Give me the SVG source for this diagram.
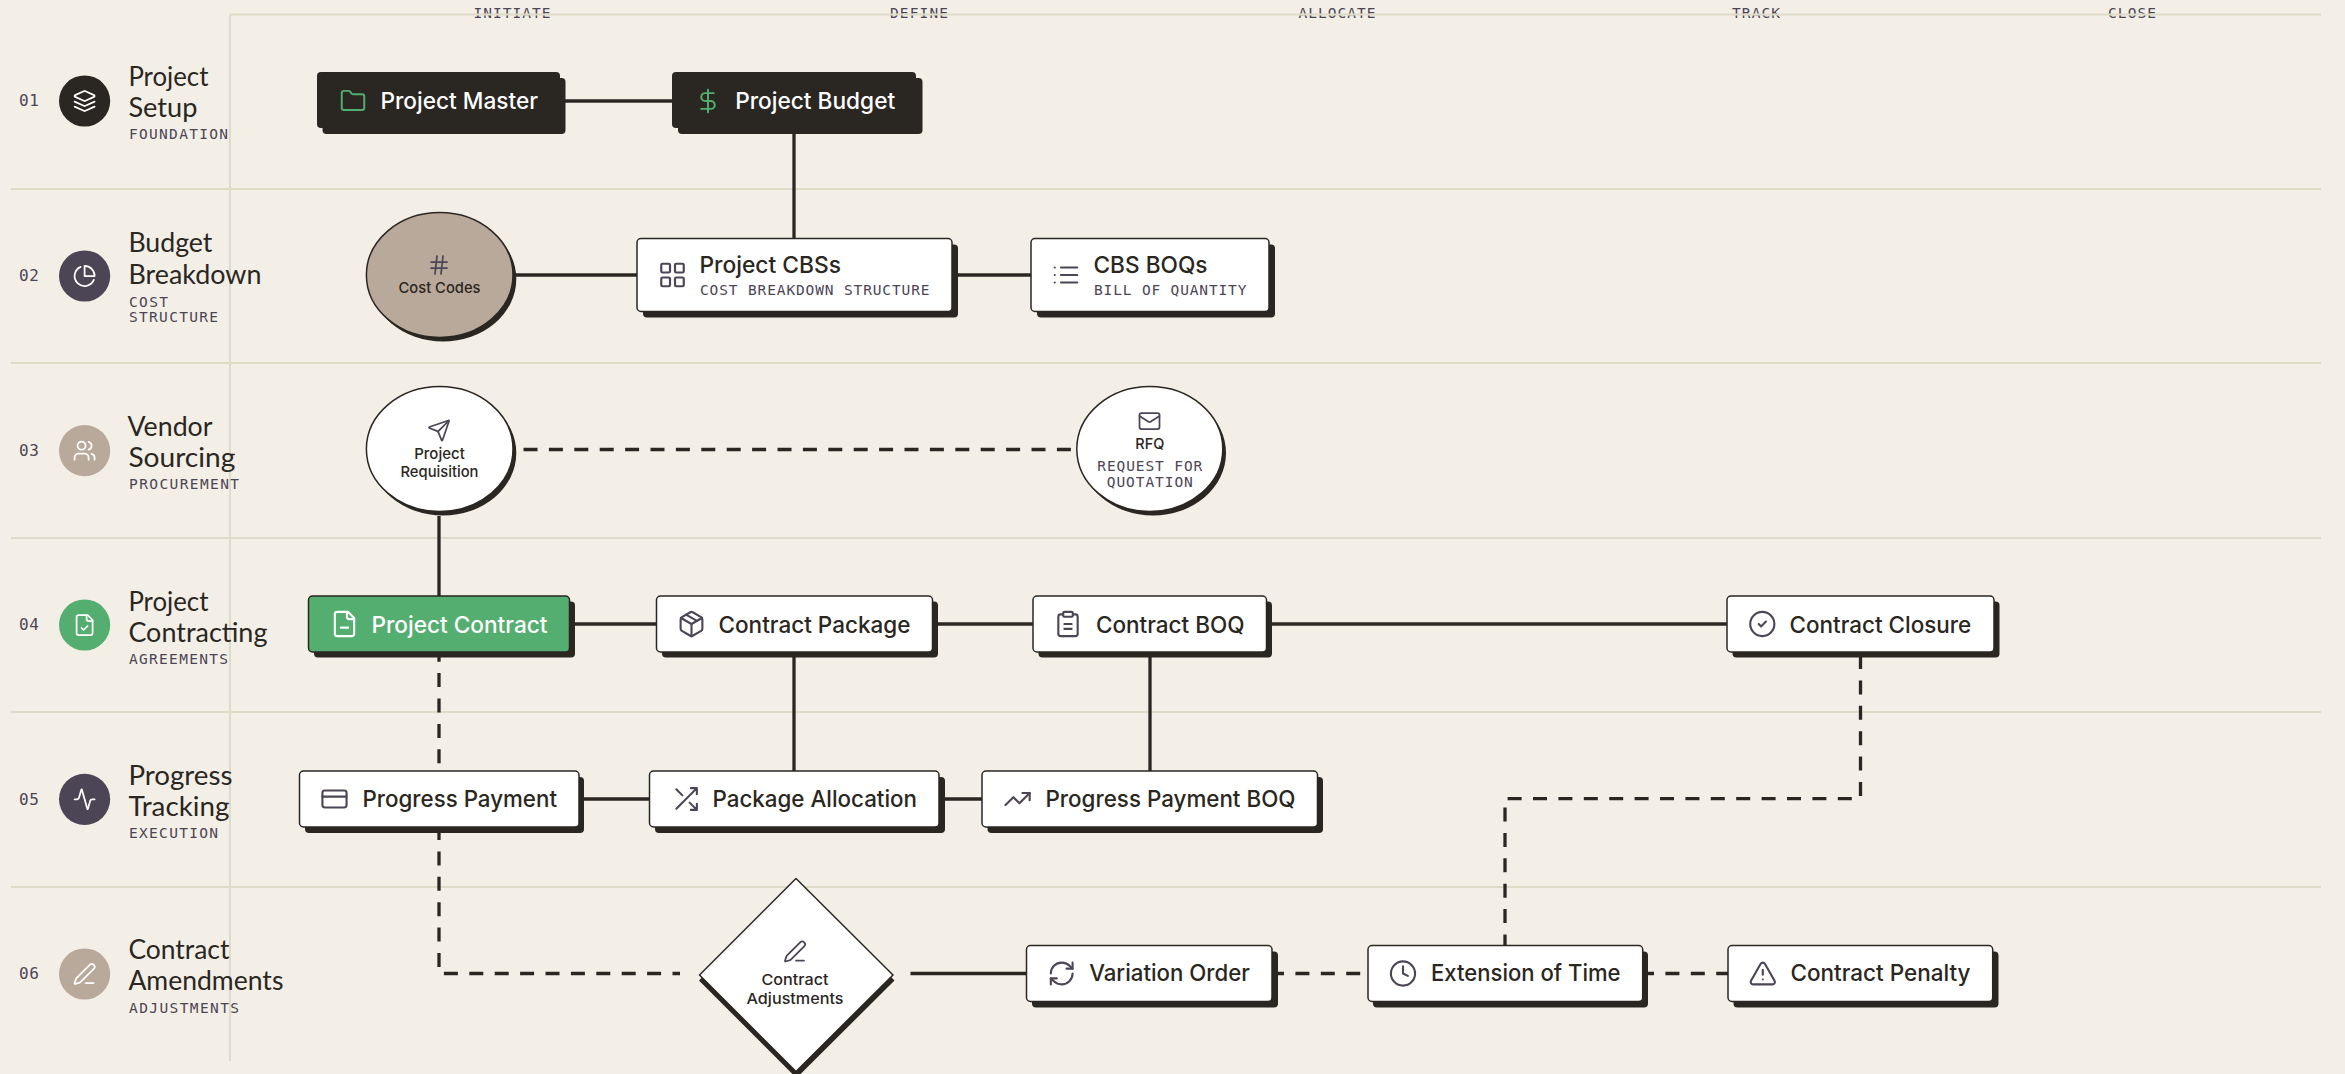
<svg xmlns="http://www.w3.org/2000/svg" width="2345" height="1074" viewBox="0 0 2345 1074">
<style>
.grid{stroke:#dedbc8;stroke-width:2;fill:none}
.c{stroke:#2a2622;stroke-width:3.3;fill:none}
.d{stroke:#2a2622;stroke-width:3.3;fill:none;stroke-dasharray:14 11.4}
.sh{fill:#2a2622}
.box{fill:#fff;stroke:#2a2622;stroke-width:1.5}
.dark{fill:#2a2622}
.mono{font-family:"DejaVu Sans Mono","Liberation Mono",monospace;font-size:14.5px;fill:#4c4555}
.num{font-size:16px}
.hd{text-anchor:middle}
.lane{font-family:Lato,"Noto Sans",sans-serif;font-size:27px;fill:#2a2622;transform:translateX(-1px)}
.t{font-family:Inter,"Liberation Sans",sans-serif;font-size:23px;font-weight:500;fill:#2a2622;transform:translateX(-0.5px)}
.w{fill:#fff}
.s{font-family:Inter,"Liberation Sans",sans-serif;font-size:15px;font-weight:500;fill:#2a2622;text-anchor:middle}
.i{fill:none;stroke:#4c4555;stroke-width:1.75;stroke-linecap:round;stroke-linejoin:round}
.iw{stroke:#fff}
.ig{stroke:#54ae70}
</style>
<defs>
<symbol id="layers" viewBox="0 0 24 24"><path d="m12.83 2.18a2 2 0 0 0-1.66 0L2.6 6.08a1 1 0 0 0 0 1.83l8.58 3.91a2 2 0 0 0 1.66 0l8.58-3.9a1 1 0 0 0 0-1.83Z"/><path d="m22 17.65-9.17 4.16a2 2 0 0 1-1.66 0L2 17.65"/><path d="m22 12.65-9.17 4.16a2 2 0 0 1-1.66 0L2 12.65"/></symbol>
<symbol id="pie" viewBox="0 0 24 24"><path d="M21.21 15.89A10 10 0 1 1 8 2.83"/><path d="M22 12A10 10 0 0 0 12 2v10z"/></symbol>
<symbol id="users" viewBox="0 0 24 24"><path d="M16 21v-2a4 4 0 0 0-4-4H6a4 4 0 0 0-4 4v2"/><circle cx="9" cy="7" r="4"/><path d="M22 21v-2a4 4 0 0 0-3-3.87"/><path d="M16 3.13a4 4 0 0 1 0 7.75"/></symbol>
<symbol id="filecheck" viewBox="0 0 24 24"><path d="M15 2H6a2 2 0 0 0-2 2v16a2 2 0 0 0 2 2h12a2 2 0 0 0 2-2V7Z"/><path d="M14 2v4a2 2 0 0 0 2 2h4"/><path d="m9 15 2 2 4-4"/></symbol>
<symbol id="fileminus" viewBox="0 0 24 24"><path d="M15 2H6a2 2 0 0 0-2 2v16a2 2 0 0 0 2 2h12a2 2 0 0 0 2-2V7Z"/><path d="M14 2v4a2 2 0 0 0 2 2h4"/><path d="M9 15h6"/></symbol>
<symbol id="activity" viewBox="0 0 24 24"><path d="M22 12h-2.48a2 2 0 0 0-1.93 1.46l-2.35 8.36a.25.25 0 0 1-.48 0L9.24 2.18a.25.25 0 0 0-.48 0l-2.35 8.36A2 2 0 0 1 4.49 12H2"/></symbol>
<symbol id="pen" viewBox="0 0 24 24"><path d="M13 21h8"/><path d="M21.174 6.812a1 1 0 0 0-3.986-3.987L3.842 16.174a2 2 0 0 0-.5.83l-1.321 4.352a.5.5 0 0 0 .623.622l4.353-1.32a2 2 0 0 0 .83-.497z"/></symbol>
<symbol id="folder" viewBox="0 0 24 24"><path d="M20 20a2 2 0 0 0 2-2V8a2 2 0 0 0-2-2h-7.9a2 2 0 0 1-1.69-.9L9.6 3.9A2 2 0 0 0 7.93 3H4a2 2 0 0 0-2 2v13a2 2 0 0 0 2 2Z"/></symbol>
<symbol id="dollar" viewBox="0 0 24 24"><path d="M12 2v20"/><path d="M17 5H9.5a3.5 3.5 0 0 0 0 7h5a3.5 3.5 0 0 1 0 7H6"/></symbol>
<symbol id="hash" viewBox="0 0 24 24"><path d="M4 9h16M4 15h16M10 3 8 21M16 3l-2 18"/></symbol>
<symbol id="grid" viewBox="0 0 24 24"><rect x="3" y="3" width="7" height="7" rx="1"/><rect x="14" y="3" width="7" height="7" rx="1"/><rect x="14" y="14" width="7" height="7" rx="1"/><rect x="3" y="14" width="7" height="7" rx="1"/></symbol>
<symbol id="list" viewBox="0 0 24 24"><path d="M3 12h.01M3 18h.01M3 6h.01M8 12h13M8 18h13M8 6h13"/></symbol>
<symbol id="send" viewBox="0 0 24 24"><path d="M14.536 21.686a.5.5 0 0 0 .937-.024l6.5-19a.496.496 0 0 0-.635-.635l-19 6.5a.5.5 0 0 0-.024.937l7.93 3.18a2 2 0 0 1 1.112 1.11z"/><path d="m21.854 2.147-10.94 10.939"/></symbol>
<symbol id="mail" viewBox="0 0 24 24"><rect x="2" y="4" width="20" height="16" rx="2"/><path d="m22 7-8.97 5.7a1.94 1.94 0 0 1-2.06 0L2 7"/></symbol>
<symbol id="package" viewBox="0 0 24 24"><path d="M11 21.73a2 2 0 0 0 2 0l7-4A2 2 0 0 0 21 16V8a2 2 0 0 0-1-1.73l-7-4a2 2 0 0 0-2 0l-7 4A2 2 0 0 0 3 8v8a2 2 0 0 0 1 1.73z"/><path d="M12 22V12"/><path d="m3.3 7 8.7 5 8.7-5"/><path d="m7.5 4.27 9 5.15"/></symbol>
<symbol id="clip" viewBox="0 0 24 24"><rect x="8" y="2" width="8" height="4" rx="1"/><path d="M16 4h2a2 2 0 0 1 2 2v14a2 2 0 0 1-2 2H6a2 2 0 0 1-2-2V6a2 2 0 0 1 2-2h2"/><path d="M9 12h6M9 16h6"/></symbol>
<symbol id="check" viewBox="0 0 24 24"><circle cx="12" cy="12" r="10"/><path d="m9 12 2 2 4-4"/></symbol>
<symbol id="card" viewBox="0 0 24 24"><rect x="2" y="5" width="20" height="14" rx="2"/><path d="M2 10h20"/></symbol>
<symbol id="shuffle" viewBox="0 0 24 24"><path d="M16 3h5v5M4 20 21 3M21 16v5h-5M15 15l6 6M4 4l5 5"/></symbol>
<symbol id="trend" viewBox="0 0 24 24"><path d="M22 7l-8.5 8.5-5-5L2 17"/><path d="M16 7h6v6"/></symbol>
<symbol id="refresh" viewBox="0 0 24 24"><path d="M3 12a9 9 0 0 1 9-9 9.75 9.75 0 0 1 6.74 2.74L21 8"/><path d="M21 3v5h-5"/><path d="M21 12a9 9 0 0 1-9 9 9.75 9.75 0 0 1-6.74-2.74L3 16"/><path d="M8 16H3v5"/></symbol>
<symbol id="clock" viewBox="0 0 24 24"><circle cx="12" cy="12" r="10"/><path d="M12 6v6l4 2"/></symbol>
<symbol id="alert" viewBox="0 0 24 24"><path d="m21.73 18-8-14a2 2 0 0 0-3.48 0l-8 14A2 2 0 0 0 4 21h16a2 2 0 0 0 1.73-3"/><path d="M12 9v4"/><path d="M12 17h.01"/></symbol>
</defs>
<rect width="2345" height="1074" fill="#f3efe7"/>

<g id="headers">
<text class="mono hd" x="512" y="18" textLength="77">INITIATE</text>
<text class="mono hd" x="919" y="18" textLength="58">DEFINE</text>
<text class="mono hd" x="1337" y="18" textLength="77">ALLOCATE</text>
<text class="mono hd" x="1756" y="18" textLength="48">TRACK</text>
<text class="mono hd" x="2132" y="18" textLength="48">CLOSE</text>
</g>

<g id="grid">
<path class="grid" d="M230 14.5H2321M230 14.5V1061M11 189H2321M11 363H2321M11 538H2321M11 712H2321M11 887H2321"/>
</g>

<g id="connectors">
<path class="c" d="M565 101H672"/>
<path class="c" d="M794 134V238"/>
<path class="c" d="M516 275H637"/>
<path class="c" d="M958 275H1031"/>
<path class="c" d="M439 516V596"/>
<path class="d" d="M523.5 449.5H1071"/>
<path class="c" d="M575 624H656"/>
<path class="c" d="M938 624H1033"/>
<path class="c" d="M1272 624H1727"/>
<path class="d" d="M439 647.7V771"/>
<path class="c" d="M794 657V771"/>
<path class="c" d="M1150 657V771"/>
<path class="c" d="M584 799H649"/>
<path class="c" d="M945 799H982"/>
<path class="d" d="M439 826V973.5H680"/>
<path class="c" d="M910.5 973.5H1026"/>
<path class="d" d="M1270 973.5H1368"/>
<path class="d" d="M1640 973.5H1728"/>
<path class="d" d="M1860.5 655V798.7H1505V946"/>
</g>

<g id="lane-1"><text class="mono num" x="19" y="106" textLength="20">01</text><circle cx="84.6" cy="101" r="25.6" fill="#2a2622"/><use href="#layers" class="i iw" x="72.6" y="89" width="24" height="24"/>
<text class="lane" x="129.4" y="85.5" textLength="80" lengthAdjust="spacingAndGlyphs">Project</text><text class="lane" x="129.4" y="116.5" textLength="69" lengthAdjust="spacingAndGlyphs">Setup</text><text class="mono" x="129" y="139" textLength="99">FOUNDATION</text></g>
<g id="lane-2"><text class="mono num" x="19" y="281" textLength="20">02</text><circle cx="84.6" cy="276" r="25.6" fill="#4c4555"/><use href="#pie" class="i iw" x="72.6" y="264" width="24" height="24"/>
<text class="lane" x="129.4" y="252" textLength="84" lengthAdjust="spacingAndGlyphs">Budget</text><text class="lane" x="129.4" y="284" textLength="133" lengthAdjust="spacingAndGlyphs">Breakdown</text><text class="mono" x="129" y="306.7" textLength="39">COST</text><text class="mono" x="129" y="321.7" textLength="89">STRUCTURE</text></g>
<g id="lane-3"><text class="mono num" x="19" y="455.5" textLength="20">03</text><circle cx="84.6" cy="450.7" r="25.6" fill="#b9a99a"/><use href="#users" class="i iw" x="72.6" y="438.7" width="24" height="24"/>
<text class="lane" x="128.5" y="435.5" textLength="85" lengthAdjust="spacingAndGlyphs">Vendor</text><text class="lane" x="129.4" y="467" textLength="107" lengthAdjust="spacingAndGlyphs">Sourcing</text><text class="mono" x="129" y="489" textLength="110">PROCUREMENT</text></g>
<g id="lane-4"><text class="mono num" x="19" y="630" textLength="20">04</text><circle cx="84.6" cy="625" r="25.6" fill="#54ae70"/><use href="#filecheck" class="i iw" x="72.6" y="613" width="24" height="24"/>
<text class="lane" x="129.4" y="610.5" textLength="80" lengthAdjust="spacingAndGlyphs">Project</text><text class="lane" x="129.4" y="641.5" textLength="139" lengthAdjust="spacingAndGlyphs">Contracting</text><text class="mono" x="129" y="664" textLength="99">AGREEMENTS</text></g>
<g id="lane-5"><text class="mono num" x="19" y="804.5" textLength="20">05</text><circle cx="84.6" cy="799.3" r="25.6" fill="#4c4555"/><use href="#activity" class="i iw" x="72.6" y="787.3" width="24" height="24"/>
<text class="lane" x="129.4" y="784.5" textLength="104" lengthAdjust="spacingAndGlyphs">Progress</text><text class="lane" x="129.4" y="815.5" textLength="101" lengthAdjust="spacingAndGlyphs">Tracking</text><text class="mono" x="129" y="838" textLength="89">EXECUTION</text></g>
<g id="lane-6"><text class="mono num" x="19" y="979" textLength="20">06</text><circle cx="84.6" cy="974" r="25.6" fill="#b9a99a"/><use href="#pen" class="i iw" x="72.6" y="962" width="24" height="24"/>
<text class="lane" x="129.4" y="958.5" textLength="101" lengthAdjust="spacingAndGlyphs">Contract</text><text class="lane" x="129.4" y="990" textLength="155" lengthAdjust="spacingAndGlyphs">Amendments</text><text class="mono" x="129" y="1012.7" textLength="110">ADJUSTMENTS</text></g>

<g id="project-master"><rect class="sh" x="322.5" y="78" width="243" height="56" rx="4"/><rect class="dark" x="317" y="72" width="243" height="56" rx="4"/><use href="#folder" class="i ig" x="339.5" y="87.5" width="27" height="27"/><text class="t w" x="381" y="109" textLength="157.5" lengthAdjust="spacingAndGlyphs">Project Master</text></g>
<g id="project-budget"><rect class="sh" x="678" y="78" width="244.5" height="56" rx="4"/><rect class="dark" x="672" y="72" width="244" height="56" rx="4"/><use href="#dollar" class="i ig" x="694.5" y="87.5" width="27" height="27"/><text class="t w" x="735.7" y="109" textLength="160" lengthAdjust="spacingAndGlyphs">Project Budget</text></g>

<g id="cost-codes"><ellipse class="sh" cx="443" cy="279" rx="73.3" ry="62.5"/><ellipse cx="439.7" cy="275" rx="73.3" ry="62.5" fill="#b9a99a" stroke="#2a2622" stroke-width="1.5"/><use href="#hash" class="i" x="427" y="253" width="24" height="24"/><text class="s" x="439.5" y="293.3" textLength="82" lengthAdjust="spacingAndGlyphs">Cost Codes</text></g>
<g id="project-cbss"><rect class="sh" x="643" y="244.5" width="315" height="73" rx="4"/><rect class="box" x="637" y="238.5" width="315" height="73" rx="4"/><use href="#grid" class="i" x="657.5" y="260" width="30" height="30"/><text class="t" x="700" y="273.3" textLength="141.5" lengthAdjust="spacingAndGlyphs">Project CBSs</text><text class="mono" x="700" y="295" textLength="229.5">COST BREAKDOWN STRUCTURE</text></g>
<g id="cbs-boqs"><rect class="sh" x="1037" y="244.5" width="238" height="73" rx="4"/><rect class="box" x="1031" y="238.5" width="238" height="73" rx="4"/><use href="#list" class="i" x="1051" y="260" width="30" height="30"/><text class="t" x="1094" y="273.3" textLength="114" lengthAdjust="spacingAndGlyphs">CBS BOQs</text><text class="mono" x="1094" y="295" textLength="152.4">BILL OF QUANTITY</text></g>

<g id="project-requisition"><ellipse class="sh" cx="443" cy="453" rx="73.3" ry="62.5"/><ellipse class="box" cx="439.7" cy="449" rx="73.3" ry="62.5"/><use href="#send" class="i" x="427" y="418.5" width="24" height="24"/><text class="s" x="439.5" y="459.3" textLength="50.5" lengthAdjust="spacingAndGlyphs">Project</text><text class="s" x="439.5" y="477.3" textLength="78" lengthAdjust="spacingAndGlyphs">Requisition</text></g>
<g id="rfq"><ellipse class="sh" cx="1153" cy="453" rx="73" ry="62.5"/><ellipse class="box" cx="1149.8" cy="449" rx="73" ry="62.5"/><use href="#mail" class="i" x="1137.5" y="409" width="24" height="24"/><text class="s" x="1149.8" y="449.3" textLength="29" lengthAdjust="spacingAndGlyphs">RFQ</text><text class="mono hd" x="1149.8" y="471" textLength="105">REQUEST FOR</text><text class="mono hd" x="1149.8" y="487.3" textLength="86">QUOTATION</text></g>

<g id="project-contract"><rect class="sh" x="314" y="601.5" width="261" height="56" rx="4"/><rect x="308.5" y="596" width="261" height="56" rx="4" fill="#54ae70" stroke="#2a2622" stroke-width="1.5"/><use href="#fileminus" class="i iw" x="330" y="609.5" width="29" height="29"/><text class="t w" x="372" y="632.7" textLength="176" lengthAdjust="spacingAndGlyphs">Project Contract</text></g>
<g id="contract-package"><rect class="sh" x="662" y="601.5" width="276" height="56" rx="4"/><rect class="box" x="656.5" y="596" width="276" height="56" rx="4"/><use href="#package" class="i" x="677" y="609.5" width="29" height="29"/><text class="t" x="719" y="632.7" textLength="192" lengthAdjust="spacingAndGlyphs">Contract Package</text></g>
<g id="contract-boq"><rect class="sh" x="1038.5" y="601.5" width="233.5" height="56" rx="4"/><rect class="box" x="1033" y="596" width="233.5" height="56" rx="4"/><use href="#clip" class="i" x="1053.5" y="609.5" width="29" height="29"/><text class="t" x="1096.4" y="632.7" textLength="148.6" lengthAdjust="spacingAndGlyphs">Contract BOQ</text></g>
<g id="contract-closure"><rect class="sh" x="1732.5" y="601.5" width="267" height="56" rx="4"/><rect class="box" x="1727" y="596" width="267" height="56" rx="4"/><use href="#check" class="i" x="1747.8" y="609.5" width="29" height="29"/><text class="t" x="1790" y="632.7" textLength="181.7" lengthAdjust="spacingAndGlyphs">Contract Closure</text></g>

<g id="progress-payment"><rect class="sh" x="305" y="777" width="279" height="56" rx="4"/><rect class="box" x="299.5" y="771" width="279.5" height="56" rx="4"/><use href="#card" class="i" x="320" y="784.5" width="29" height="29"/><text class="t" x="363" y="806.7" textLength="194.5" lengthAdjust="spacingAndGlyphs">Progress Payment</text></g>
<g id="package-allocation"><rect class="sh" x="655" y="777" width="290" height="56" rx="4"/><rect class="box" x="649.5" y="771" width="289.5" height="56" rx="4"/><use href="#shuffle" class="i" x="671.5" y="784.5" width="29" height="29"/><text class="t" x="713" y="806.7" textLength="204.5" lengthAdjust="spacingAndGlyphs">Package Allocation</text></g>
<g id="progress-payment-boq"><rect class="sh" x="987.5" y="777" width="335.5" height="56" rx="4"/><rect class="box" x="982" y="771" width="335.5" height="56" rx="4"/><use href="#trend" class="i" x="1003.1" y="784.5" width="29" height="29"/><text class="t" x="1046" y="806.7" textLength="250" lengthAdjust="spacingAndGlyphs">Progress Payment BOQ</text></g>

<g id="contract-adjustments"><path class="sh" d="M796.5 884 893.5 980.5 796.5 1077 700 980.5Z" stroke="#2a2622" stroke-width="1.5" stroke-linejoin="round"/><path class="box" d="M796 878.5 893 975 796 1071.5 699.5 975Z" stroke-linejoin="round"/><use href="#pen" class="i" x="783" y="939.5" width="24" height="24"/><text class="s" x="795" y="985" textLength="67" lengthAdjust="spacingAndGlyphs">Contract</text><text class="s" x="795" y="1004" textLength="97" lengthAdjust="spacingAndGlyphs">Adjustments</text></g>
<g id="variation-order"><rect class="sh" x="1032" y="951.5" width="246" height="56" rx="4"/><rect class="box" x="1026.5" y="945.5" width="245.5" height="56" rx="4"/><use href="#refresh" class="i" x="1047.2" y="959" width="29" height="29"/><text class="t" x="1089.7" y="981" textLength="160.7" lengthAdjust="spacingAndGlyphs">Variation Order</text></g>
<g id="extension-of-time"><rect class="sh" x="1373" y="951.5" width="275" height="56" rx="4"/><rect class="box" x="1368" y="945.5" width="274.7" height="56" rx="4"/><use href="#clock" class="i" x="1388.5" y="959" width="29" height="29"/><text class="t" x="1431.5" y="981" textLength="189.5" lengthAdjust="spacingAndGlyphs">Extension of Time</text></g>
<g id="contract-penalty"><rect class="sh" x="1733.5" y="951.5" width="265" height="56" rx="4"/><rect class="box" x="1728" y="945.5" width="264.7" height="56" rx="4"/><use href="#alert" class="i" x="1748.3" y="959" width="29" height="29"/><text class="t" x="1791" y="981" textLength="180" lengthAdjust="spacingAndGlyphs">Contract Penalty</text></g>
</svg>
